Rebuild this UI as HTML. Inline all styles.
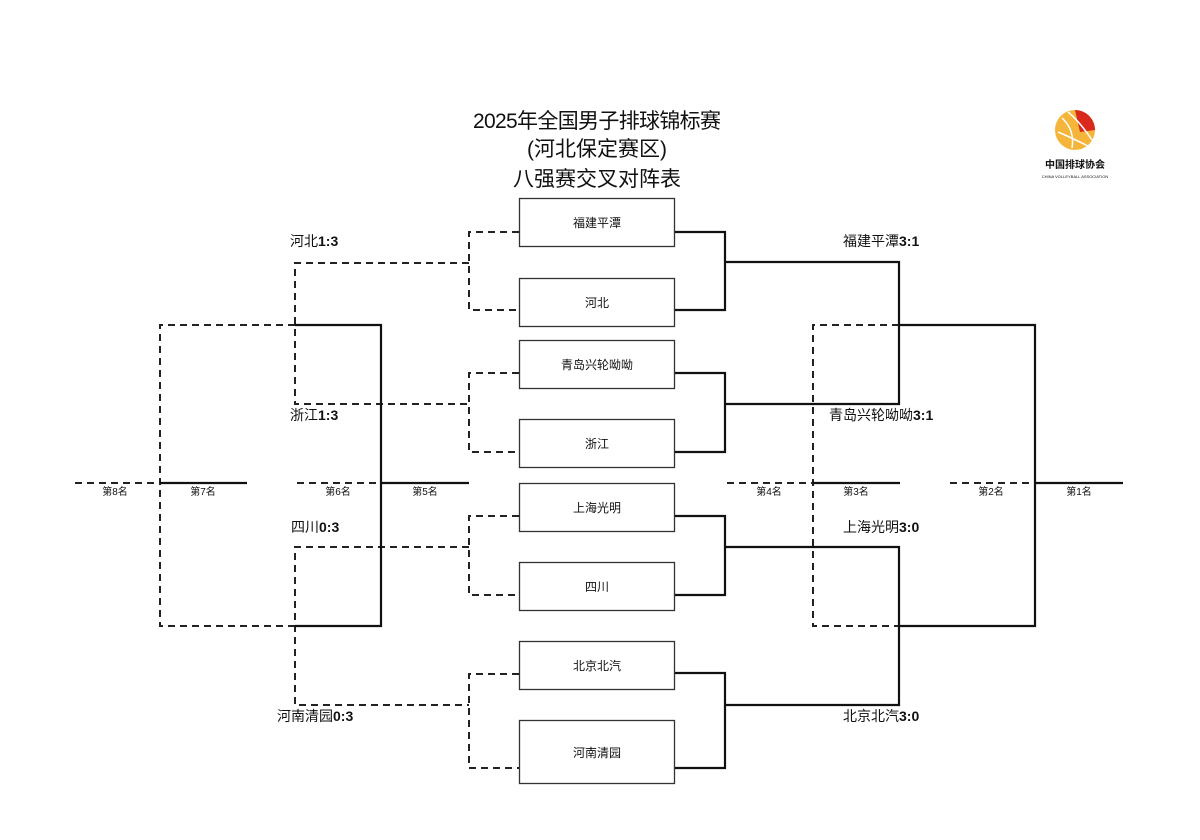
<!DOCTYPE html>
<html><head><meta charset="utf-8">
<style>
html,body{margin:0;padding:0;background:#fff;width:1200px;height:840px;overflow:hidden}
text{font-family:"Liberation Sans","Noto Sans CJK SC",sans-serif;fill:#111}
</style></head>
<body>
<svg width="1200" height="840" viewBox="0 0 1200 840" xmlns="http://www.w3.org/2000/svg">
<g text-anchor="middle" font-size="21">
<text x="597" y="128" textLength="248">2025年全国男子排球锦标赛</text>
<text x="597" y="156">(河北保定赛区)</text>
<text x="597" y="186">八强赛交叉对阵表</text>
</g>
<!-- logo -->
<g>
<circle cx="1075" cy="130" r="20" fill="#f5b53a"/>
<path d="M1075 110 A20 20 0 0 1 1095 130 L1080 132 Z" fill="#d9281c"/>
<path d="M1062 118 Q1075 130 1072 148 M1058 132 Q1072 138 1088 146 M1068 112 Q1080 122 1092 140" stroke="#fff" stroke-width="1.5" fill="none"/>
<text x="1075" y="168" font-size="10" text-anchor="middle" font-weight="bold">中国排球协会</text>
<text x="1075" y="178" font-size="4" text-anchor="middle">CHINA VOLLEYBALL ASSOCIATION</text>
</g>
<!-- boxes -->
<g fill="#fff" stroke="#333" stroke-width="1.3">
<rect x="519.5" y="198.5" width="155" height="48"/>
<rect x="519.5" y="278.5" width="155" height="48"/>
<rect x="519.5" y="340.5" width="155" height="48"/>
<rect x="519.5" y="419.5" width="155" height="48"/>
<rect x="519.5" y="483.5" width="155" height="48"/>
<rect x="519.5" y="562.5" width="155" height="48"/>
<rect x="519.5" y="641.5" width="155" height="48"/>
<rect x="519.5" y="720.5" width="155" height="63"/>
</g>
<g font-size="12" text-anchor="middle">
<text x="597" y="227">福建平潭</text>
<text x="597" y="307">河北</text>
<text x="597" y="369">青岛兴轮呦呦</text>
<text x="597" y="448">浙江</text>
<text x="597" y="512">上海光明</text>
<text x="597" y="591">四川</text>
<text x="597" y="670">北京北汽</text>
<text x="597" y="757">河南清园</text>
</g>
<!-- dashed lines -->
<g stroke="#222" stroke-width="2" fill="none" stroke-dasharray="7,5">
<path d="M519 232H469V310H519M469 263H295V404H469M519 373H469V452H519"/>
<path d="M519 516H469V595H519M469 547H295V705H469M519 674H469V768H519"/>
<path d="M295 325H160V626H295"/>
<path d="M75 483H160M297 483H381"/>
<path d="M899 325H813V626H899"/>
<path d="M727 483H813M950 483H1035"/>
</g>
<!-- solid lines -->
<g stroke="#111" stroke-width="2.2" fill="none">
<path d="M675 232H725V310H675M725 262H899V404H725M675 373H725V452H675"/>
<path d="M675 516H725V595H675M725 547H899V705H725M675 673H725V768H675"/>
<path d="M295 325H381V626H295"/>
<path d="M899 325H1035V626H899"/>
<path d="M160 483H247M381 483H469M813 483H900M1035 483H1123"/>
</g>
<g font-size="10" text-anchor="middle">
<text x="115" y="495">第8名</text>
<text x="203" y="495">第7名</text>
<text x="338" y="495">第6名</text>
<text x="425" y="495">第5名</text>
<text x="769" y="495">第4名</text>
<text x="856" y="495">第3名</text>
<text x="991" y="495">第2名</text>
<text x="1079" y="495">第1名</text>
</g>
<g font-size="14">
<text x="290" y="246">河北<tspan font-weight="bold">1:3</tspan></text>
<text x="290" y="420">浙江<tspan font-weight="bold">1:3</tspan></text>
<text x="291" y="532">四川<tspan font-weight="bold">0:3</tspan></text>
<text x="277" y="721">河南清园<tspan font-weight="bold">0:3</tspan></text>
<text x="843" y="246">福建平潭<tspan font-weight="bold">3:1</tspan></text>
<text x="829" y="420">青岛兴轮呦呦<tspan font-weight="bold">3:1</tspan></text>
<text x="843" y="532">上海光明<tspan font-weight="bold">3:0</tspan></text>
<text x="843" y="721">北京北汽<tspan font-weight="bold">3:0</tspan></text>
</g>
</svg>
</body></html>
